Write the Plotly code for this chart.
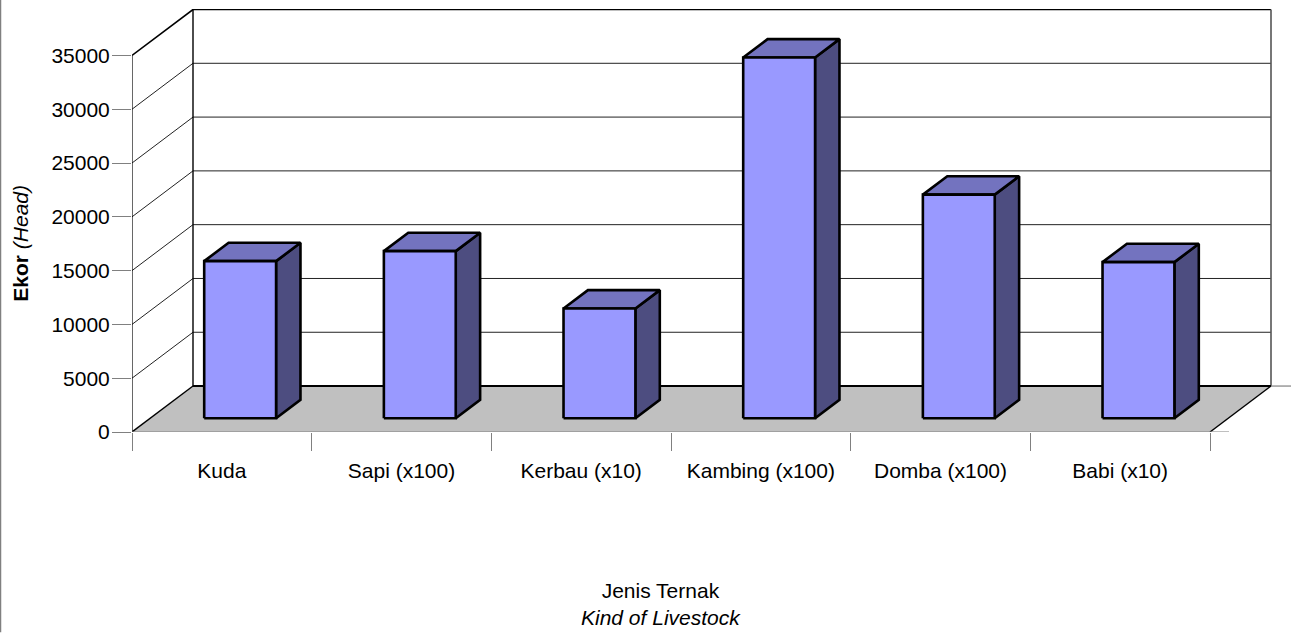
import plotly.graph_objects as go

# Data
categories = ["Kuda", "Sapi (x100)", "Kerbau (x10)", "Kambing (x100)", "Domba (x100)", "Babi (x10)"]
values = [14600, 15530, 10200, 33530, 20780, 14510]
y_ticks = [0, 5000, 10000, 15000, 20000, 25000, 30000, 35000]

# Geometry in axis units
W, H = 1291, 633
LEFT, BOTTOM, TOP = 132, 432.5, 9
CAT_PX = 1078 / 6
VAL_PX = 377 / 35000
DEPTH_X = 61 / CAT_PX
DEPTH_Y = 46 / VAL_PX
N = len(categories)
YMAX = y_ticks[-1]


def px_x(p):
    return (p - LEFT) / CAT_PX


def paper_x(p):
    return (p - LEFT) / (W - LEFT)


def paper_y(p):
    return (BOTTOM - p) / (BOTTOM - TOP)


def P(x, v, d=0.0):
    return x + d * DEPTH_X, v + d * DEPTH_Y


fig = go.Figure()


def poly(pts, fill=None, color="black", width=1.0):
    xs = [p[0] for p in pts]
    ys = [p[1] for p in pts]
    if fill:
        xs.append(xs[0])
        ys.append(ys[0])
    fig.add_trace(go.Scatter(
        x=xs, y=ys, mode="lines",
        fill="toself" if fill else None, fillcolor=fill,
        line=dict(color=color, width=width),
        hoverinfo="skip", showlegend=False, cliponaxis=False))


# Floor
poly([P(0, 0), P(N, 0), P(N, 0, 1), P(0, 0, 1)], fill="#C0C0C0", color="rgba(0,0,0,0)", width=0)

# Grid on the side wall and the back wall
for v in y_ticks[1:]:
    w = 1.6 if v == YMAX else 1
    poly([P(0, v), P(0, v, 1), P(N, v, 1)], width=w, color="#222222" if v != YMAX else "black")

# Wall edges
poly([P(0, 0), P(0, YMAX)], width=1.2)
poly([P(0, 0, 1), P(0, YMAX, 1)], width=1.4)
poly([P(N, 0, 1), P(N, YMAX, 1)], width=1.6, color="#555555")
poly([P(0, 0), P(0, 0, 1)], width=1.4)
poly([P(N, 0), P(N, 0, 1)], width=1.4)
poly([P(0, 0, 1), P(N, 0, 1)], width=2)

# Front edge and right-hand stubs
poly([(px_x(113), 0), (px_x(1229), 0)], color="#808080", width=1.2)
poly([P(N, 0, 1), (px_x(1291), DEPTH_Y)], color="#808080", width=1.2)

# Bars
BW = 0.4
D0, D1 = 0.3, 0.7
for i, v in enumerate(values):
    x0 = i + (1 - BW) / 2
    x1 = x0 + BW
    poly([P(x1, 0, D0), P(x1, 0, D1), P(x1, v, D1), P(x1, v, D0)], fill="#4D4D80", width=2.6)
    poly([P(x0, v, D0), P(x1, v, D0), P(x1, v, D1), P(x0, v, D1)], fill="#7373BF", width=2.6)
    poly([P(x0, 0, D0), P(x1, 0, D0), P(x1, v, D0), P(x0, v, D0)], fill="#9999FF", width=2.6)

FONT = "Liberation Sans, Arial, sans-serif"
TXT = dict(family=FONT, size=21, color="black")

fig.update_layout(
    width=W, height=H, autosize=False,
    paper_bgcolor="white", plot_bgcolor="rgba(0,0,0,0)",
    margin=dict(l=LEFT, r=0, t=TOP, b=H - BOTTOM, pad=0, autoexpand=False),
    showlegend=False, font=TXT,
    xaxis=dict(
        range=[0, px_x(1291)], tickmode="array",
        tickvals=[i + 0.5 for i in range(N)], ticktext=categories,
        ticks="outside", ticklen=20, tickcolor="rgba(0,0,0,0)", tickwidth=1,
        minor=dict(tickmode="array", tickvals=list(range(N + 1)), ticks="outside",
                   ticklen=18, tickcolor="#808080", tickwidth=1.2, showgrid=False),
        showgrid=False, zeroline=False, showline=False, tickfont=TXT, tickangle=0,
    ),
    yaxis=dict(
        range=[0, (BOTTOM - TOP) / VAL_PX], tickmode="array", tickvals=y_ticks,
        ticktext=[str(t) for t in y_ticks],
        ticks="outside", ticklen=19, tickcolor="#808080", tickwidth=1.2,
        ticklabelstandoff=-2,
        showgrid=False, zeroline=False, showline=False, tickfont=TXT,
    ),
    annotations=[
        dict(text="<b>Ekor</b> <i>(Head)</i>", textangle=-90, x=paper_x(21), y=paper_y(244),
             xanchor="center", yanchor="middle",
             xref="paper", yref="paper", showarrow=False, font=TXT),
        dict(text="Jenis Ternak<br><i>Kind of Livestock</i>", x=paper_x(660.5), y=paper_y(604.5),
             xanchor="center", yanchor="middle",
             xref="paper", yref="paper", showarrow=False, font=TXT),
    ],
    shapes=[dict(type="line", xref="paper", yref="paper",
                 x0=paper_x(0.5), x1=paper_x(0.5),
                 y0=paper_y(H), y1=paper_y(0),
                 line=dict(color="#808080", width=1.5))],
)

fig.write_html("out.html", config={"displayModeBar": False},
               post_script="document.body.style.margin='0';document.documentElement.style.overflow='hidden';")
